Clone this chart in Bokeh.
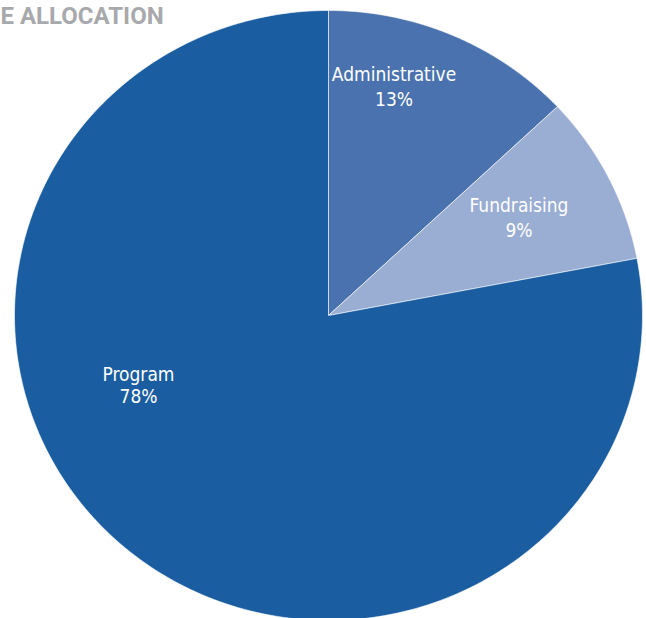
import numpy as np
from bokeh.plotting import figure
from bokeh.models import Range1d
from bokeh.embed import file_html
from bokeh.resources import INLINE
from bokeh.core.properties import value

# ---- data ----
categories = ["Administrative", "Fundraising", "Program"]
percents = [13, 9, 78]
colors = ["#4a72ae", "#9aadd3", "#1a5da0"]
title_text = "E ALLOCATION"

# ---- layout (pixel-like data units, pie centre at 0,0) ----
W, H = 646, 618
p = figure(width=W, height=H, x_range=Range1d(-328, 318), y_range=Range1d(-303, 315),
           output_backend="svg", toolbar_location=None, min_border=0)
p.axis.visible = False
p.grid.visible = False
p.outline_line_color = None
p.background_fill_color = "white"
p.border_fill_color = "white"

rx, ry = 314, 305
cum = np.cumsum([0] + percents) / sum(percents)
xs, ys = [], []
for i in range(len(percents)):
    a0 = np.pi / 2 - 2 * np.pi * cum[i]
    a1 = np.pi / 2 - 2 * np.pi * cum[i + 1]
    t = np.linspace(a0, a1, 240)
    xs.append(np.concatenate([[0.0], rx * np.cos(t)]))
    ys.append(np.concatenate([[0.0], ry * np.sin(t)]))
p.patches(xs, ys, fill_color=colors, line_color="white", line_width=1, line_alpha=0.6)

label_x = [65.5, 190.5, -190]
name_y = [242, 111, -58]
pct_y = [217, 86, -80]
font = value("DejaVu Sans Condensed, Roboto, sans-serif")
p.text(x=label_x, y=name_y, text=categories, text_align="center", text_baseline="alphabetic",
       text_color="white", text_font=font, text_font_size="19px")
p.text(x=label_x, y=pct_y, text=[f"{v}%" for v in percents], text_align="center",
       text_baseline="alphabetic", text_color="white", text_font=font, text_font_size="19px")

p.text(x=[-328], y=[300], text=[title_text], text_align="left", text_baseline="alphabetic",
       text_color="#a7a9ac", text_font=value("Roboto"), text_font_style="bold",
       text_font_size="24px")

open("out.html", "w").write(file_html(p, INLINE))
